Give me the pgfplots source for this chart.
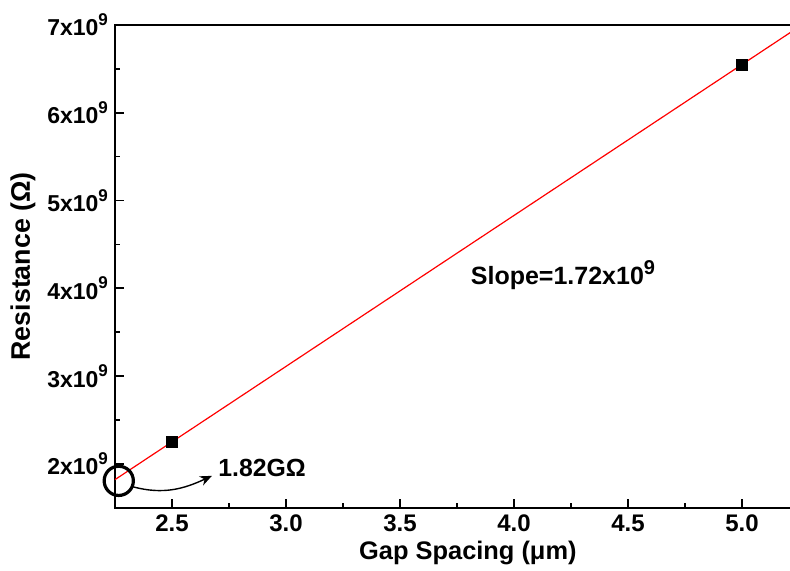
\documentclass[border=0pt]{standalone}
\usepackage{fontspec}
\setmainfont{Liberation Sans}
\usepackage{pgfplots}
\pgfplotsset{compat=1.18}
\usetikzlibrary{arrows.meta}
\newcommand{\nine}{\raisebox{0.85ex}{\fontsize{8.5}{9}\selectfont 9}}

\begin{document}
\begin{tikzpicture}
\begin{axis}[
  scale only axis, width=347.7pt, height=241.35pt,
  at={(0,0)}, anchor=south west,
  xmin=2.25, xmax=5.3, ymin=1.5e9, ymax=7e9,
  xtick={2.5,3.0,3.5,4.0,4.5,5.0},
  xticklabels={2.5,3.0,3.5,4.0,4.5,5.0},
  minor xtick={2.75,3.25,3.75,4.25,4.75},
  ytick={2e9,3e9,4e9,5e9,6e9,7e9},
  yticklabels={2x10\nine,3x10\nine,4x10\nine,5x10\nine,6x10\nine,7x10\nine},
  minor ytick={2.5e9,3.5e9,4.5e9,5.5e9,6.5e9},
  scaled y ticks=false,
  tick align=inside, tick pos=left,
  major tick length=4.5pt, minor tick length=2.5pt,
  tick style={black, line width=0.8pt},
  axis line style={line width=1pt},
  xticklabel style={font=\bfseries\fontsize{12}{14}\selectfont},
  yticklabel style={font=\bfseries\fontsize{11.5}{13}\selectfont},
  every axis x label/.style={at={(axis description cs:0.5,0)}, anchor=center,
    xshift=2.6pt, yshift=-22.6pt, font=\bfseries\fontsize{12.7}{14}\selectfont},
  every axis y label/.style={at={(axis description cs:0,0.5)}, anchor=center, rotate=90,
    yshift=46pt, font=\bfseries\fontsize{13.4}{15}\selectfont},
  xlabel={Gap Spacing (μm)},
  ylabel={Resistance (Ω)},
  clip=false,
]
  % linear fit
  \addplot[red, line width=0.6pt] coordinates {(2.25,1.82e9) (5.3,7.066e9)};
  % measured
  \addplot[only marks, mark=square*, mark size=2.75pt, black] coordinates {(2.5,2.25e9) (5.0,6.545e9)};

  \draw[line width=1.6pt] (axis cs:2.2665,1.806e9) circle[radius=7.3pt];
  \draw[line width=0.7pt, -{Stealth[length=6pt,width=5pt]}]
    (axis cs:2.329,1.738e9) to[out=-15,in=205] (axis cs:2.675,1.863e9);
  \node[font=\bfseries\fontsize{12.4}{14}\selectfont] at (axis cs:2.895,1.955e9) {1.82GΩ};
  \node[font=\bfseries\fontsize{12.5}{14}\selectfont, anchor=west] at (axis cs:3.78,4.15e9)
    {Slope=1.72x10\raisebox{0.75ex}{\fontsize{10}{10}\selectfont 9}};
\end{axis}
\pgfresetboundingbox
\useasboundingbox (-57.5pt,-31.65pt) rectangle (337.5pt,253.85pt);
\end{tikzpicture}
\end{document}
